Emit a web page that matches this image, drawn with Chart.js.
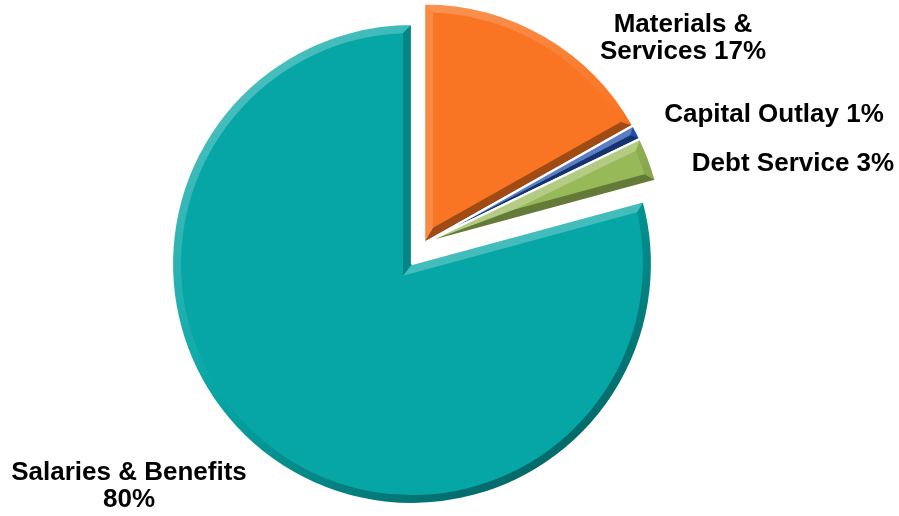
<!DOCTYPE html>
<html>
<head>
<meta charset="utf-8">
<title>Expenditures by Category</title>
<script src="https://cdn.jsdelivr.net/npm/chart.js@4.4.1/dist/chart.umd.min.js"></script>
<style>
  html, body { margin: 0; padding: 0; background: #ffffff; }
  #wrap { position: relative; width: 899px; height: 516px; }
</style>
</head>
<body>
<div id="wrap"><canvas id="pie"></canvas></div>
<script>
// Budget categories and their shares (percent)
const categories = ['Materials & Services', 'Capital Outlay', 'Debt Service', 'Salaries & Benefits'];
const shares = [17, 1, 3, 80];
// Number of words that go on the first label line (null = single line)
const labelWrap = [2, null, null, 3];
// Which slices are pulled out of the pie
const exploded = [true, true, true, false];

// Styling
const sliceColors = ['#F97523', '#2150AC', '#98B957', '#06A6A6'];
const labelAnchors = [
  { x: 683, y: 32 },
  { x: 774, y: 122 },
  { x: 793, y: 171 },
  { x: 129, y: 480 }
];
const labelFont = 'bold 26px "Liberation Sans", Arial, Helvetica, sans-serif';
const labelLineHeight = 27;
const explodeDistance = 24;
const bevelWidth = 9;
const separatorWidth = 2.2;
const lightDir = (() => { const lx = -0.55, ly = -0.83, m = Math.hypot(lx, ly); return { x: lx / m, y: ly / m }; })();

function hexToRgb(hex) {
  const v = parseInt(hex.slice(1), 16);
  return [(v >> 16) & 255, (v >> 8) & 255, v & 255];
}
// Lighten faces turned toward the light, darken those turned away
function shade(hex, nx, ny) {
  const s = nx * lightDir.x + ny * lightDir.y;
  const c = hexToRgb(hex);
  let out;
  if (s >= 0) {
    const k = 0.26 * s;
    out = c.map(v => Math.round(v + (255 - v) * k));
  } else {
    const k = 0.36 * -s;
    out = c.map(v => Math.round(v * (1 - k)));
  }
  return `rgb(${out[0]},${out[1]},${out[2]})`;
}

function drawBevel(ctx, cx, cy, a0, a1, R, color) {
  const alpha = a1 - a0;
  const half = Math.sin(alpha / 2);
  let w = bevelWidth;
  // keep the bevel inside very thin slices
  const wMax = R * half / (1 + half) * 0.95;
  if (w > wMax) w = wMax;
  const mid = (a0 + a1) / 2;
  const d = w / half;
  const P = { x: cx + d * Math.cos(mid), y: cy + d * Math.sin(mid) };
  const ri = R - w;
  const dphi = Math.asin(Math.min(1, w / ri));
  const f0 = a0 + dphi, f1 = a1 - dphi;
  const A0 = { x: cx + R * Math.cos(a0), y: cy + R * Math.sin(a0) };
  const A1 = { x: cx + R * Math.cos(a1), y: cy + R * Math.sin(a1) };
  const Q0 = { x: cx + ri * Math.cos(f0), y: cy + ri * Math.sin(f0) };
  const Q1 = { x: cx + ri * Math.cos(f1), y: cy + ri * Math.sin(f1) };

  // outer rim
  ctx.beginPath();
  ctx.arc(cx, cy, R, a0, a1);
  ctx.lineTo(Q1.x, Q1.y);
  ctx.arc(cx, cy, ri, f1, f0, true);
  ctx.closePath();
  if (ctx.createConicGradient) {
    const g = ctx.createConicGradient(0, cx, cy);
    const steps = 72;
    for (let k = 0; k <= steps; k++) {
      const th = (k / steps) * Math.PI * 2;
      g.addColorStop(k / steps, shade(color, Math.cos(th), Math.sin(th)));
    }
    ctx.fillStyle = g;
  } else {
    ctx.fillStyle = shade(color, Math.cos(mid), Math.sin(mid));
  }
  ctx.fill();

  // start edge
  ctx.beginPath();
  ctx.moveTo(cx, cy);
  ctx.lineTo(A0.x, A0.y);
  ctx.lineTo(Q0.x, Q0.y);
  ctx.lineTo(P.x, P.y);
  ctx.closePath();
  ctx.fillStyle = shade(color, Math.sin(a0), -Math.cos(a0));
  ctx.fill();

  // end edge
  ctx.beginPath();
  ctx.moveTo(cx, cy);
  ctx.lineTo(A1.x, A1.y);
  ctx.lineTo(Q1.x, Q1.y);
  ctx.lineTo(P.x, P.y);
  ctx.closePath();
  ctx.fillStyle = shade(color, -Math.sin(a1), Math.cos(a1));
  ctx.fill();
}

// Draws each slice (pulled out where needed) with a chamfered edge
const bevelPlugin = {
  id: 'bevelExplode',
  beforeDatasetDraw(chart, args) {
    const ctx = chart.ctx;
    const arcs = args.meta.data;
    // pulled-out slices move together along the bisector of the largest one
    let lead = -1, leadSpan = -1;
    arcs.forEach((arc, i) => {
      if (exploded[i] && arc.endAngle - arc.startAngle > leadSpan) {
        leadSpan = arc.endAngle - arc.startAngle; lead = i;
      }
    });
    const leadMid = lead >= 0 ? (arcs[lead].startAngle + arcs[lead].endAngle) / 2 : 0;
    const shift = { x: Math.cos(leadMid) * explodeDistance, y: Math.sin(leadMid) * explodeDistance };

    arcs.forEach((arc, i) => {
      const { x, y, startAngle, endAngle, outerRadius } = arc;
      ctx.save();
      if (exploded[i]) ctx.translate(shift.x, shift.y);
      arc.draw(ctx);
      ctx.save();
      ctx.beginPath();
      ctx.moveTo(x, y);
      ctx.arc(x, y, outerRadius, startAngle, endAngle);
      ctx.closePath();
      ctx.clip();
      ctx.filter = 'blur(0.7px)';
      drawBevel(ctx, x, y, startAngle, endAngle, outerRadius, sliceColors[i]);
      ctx.restore();
      ctx.beginPath();
      ctx.moveTo(x, y);
      ctx.arc(x, y, outerRadius, startAngle, endAngle);
      ctx.closePath();
      ctx.lineJoin = 'bevel';
      ctx.lineWidth = separatorWidth;
      ctx.strokeStyle = '#ffffff';
      ctx.stroke();
      ctx.restore();
    });
    return false;
  }
};

function labelLines(i) {
  const words = (categories[i] + ' ' + shares[i] + '%').split(' ');
  const n = labelWrap[i];
  if (!n) return [words.join(' ')];
  return [words.slice(0, n).join(' '), words.slice(n).join(' ')];
}

const labelPlugin = {
  id: 'sliceLabels',
  afterDraw(chart) {
    const ctx = chart.ctx;
    ctx.save();
    ctx.font = labelFont;
    ctx.fillStyle = '#000000';
    ctx.textAlign = 'center';
    ctx.textBaseline = 'alphabetic';
    categories.forEach((c, i) => {
      labelLines(i).forEach((line, k) => {
        ctx.fillText(line, labelAnchors[i].x, labelAnchors[i].y + k * labelLineHeight);
      });
    });
    ctx.restore();
  }
};

new Chart(document.getElementById('pie'), {
  type: 'pie',
  data: {
    labels: categories,
    datasets: [{
      data: shares,
      backgroundColor: sliceColors,
      borderWidth: 0
    }]
  },
  options: {
    responsive: true,
    maintainAspectRatio: false,
    animation: false,
    devicePixelRatio: 1,
    radius: 240,
    layout: { padding: { left: 0, right: 75, top: 12, bottom: 0 } },
    plugins: {
      legend: { display: false },
      tooltip: { enabled: false }
    }
  },
  plugins: [bevelPlugin, labelPlugin]
});
</script>
</body>
</html>
